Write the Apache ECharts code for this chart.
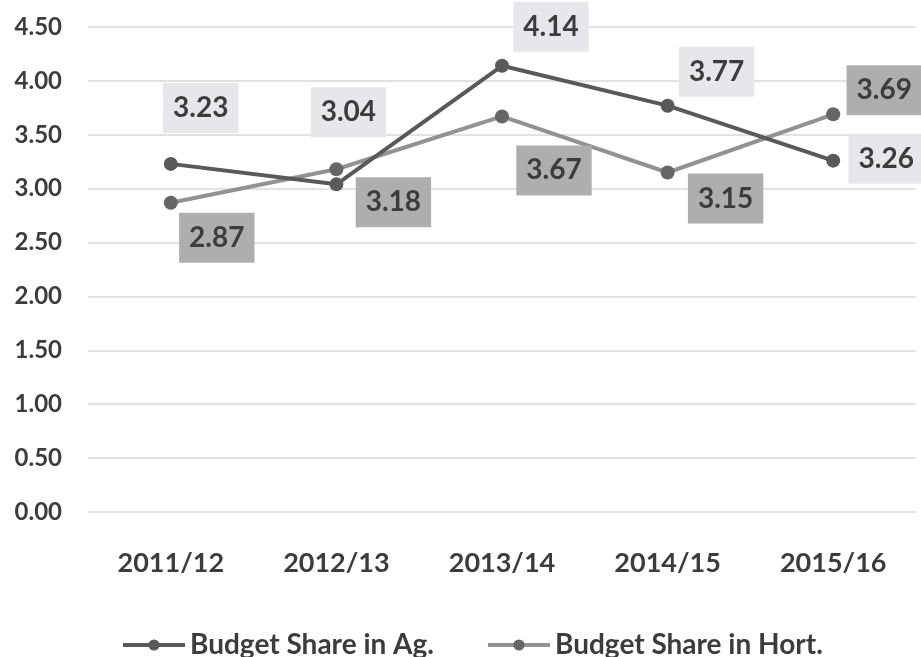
<!DOCTYPE html>
<html>
<head>
<meta charset="utf-8">
<script src="https://cdn.jsdelivr.net/npm/echarts@6/dist/echarts.min.js"></script>
<style>
  html, body { margin: 0; padding: 0; background: #fff; }
  #chart { width: 921px; height: 657px; }
</style>
</head>
<body>
<div id="chart"></div>
<script>
// Budget shares by fiscal year
const years = ['2011/12', '2012/13', '2013/14', '2014/15', '2015/16'];
const agShare = [3.23, 3.04, 4.14, 3.77, 3.26];
const hortShare = [2.87, 3.18, 3.67, 3.15, 3.69];
const seriesNames = ['Budget Share in Ag.', 'Budget Share in Hort.'];

// Where each value label sits relative to its point (pixels)
const agLabelOffsets = [[30, -56], [12, -72], [49, -39], [49, -34], [53, -2]];
const hortLabelOffsets = [[46, 35], [57, 33], [52, 54], [58, 26], [51, -24]];

const FONT = 'Lato, "Open Sans", sans-serif';
const TEXT = '#3c3c3c';

function withLabels(values, offsets, bg) {
  return values.map((v, i) => ({
    value: v,
    label: {
      show: true,
      position: 'inside',
      offset: offsets[i],
      formatter: (p) => p.value.toFixed(2),
      fontFamily: FONT,
      fontWeight: 'bold',
      fontSize: 28,
      lineHeight: 30,
      color: TEXT,
      backgroundColor: bg,
      padding: [10, 10]
    }
  }));
}

const chart = echarts.init(document.getElementById('chart'));
chart.setOption({
  animation: false,
  backgroundColor: '#fff',
  grid: { left: 88, right: 5, top: 27, bottom: 145 },
  xAxis: {
    type: 'category',
    data: years,
    boundaryGap: true,
    axisLine: { show: false },
    axisTick: { show: false },
    axisLabel: {
      margin: 38,
      fontFamily: FONT,
      fontWeight: 'bold',
      fontSize: 27,
      color: TEXT
    }
  },
  yAxis: {
    type: 'value',
    min: 0,
    max: 4.5,
    interval: 0.5,
    axisLine: { show: false },
    axisTick: { show: false },
    splitLine: { lineStyle: { color: '#d9d9d9', width: 1.5 } },
    axisLabel: {
      margin: 26,
      formatter: (v) => v.toFixed(2),
      fontFamily: FONT,
      fontWeight: 'bold',
      fontSize: 24,
      color: TEXT
    }
  },
  legend: {
    left: 116,
    top: 626,
    itemWidth: 62,
    itemHeight: 14,
    itemGap: 52,
    lineStyle: { width: 4 },
    textStyle: {
      fontFamily: FONT,
      fontWeight: 'bold',
      fontSize: 28,
      color: TEXT,
      padding: [0, 0, 0, 0]
    },
    data: seriesNames
  },
  series: [
    {
      name: seriesNames[0],
      type: 'line',
      data: withLabels(agShare, agLabelOffsets, '#e6e7ea'),
      symbol: 'circle',
      symbolSize: 14,
      lineStyle: { color: '#595959', width: 4 },
      itemStyle: { color: '#5a5a5a' },
      z: 3
    },
    {
      name: seriesNames[1],
      type: 'line',
      data: withLabels(hortShare, hortLabelOffsets, '#aeaeae'),
      symbol: 'circle',
      symbolSize: 14,
      lineStyle: { color: '#929292', width: 4 },
      itemStyle: { color: '#666666' },
      z: 2
    }
  ]
});
</script>
</body>
</html>
